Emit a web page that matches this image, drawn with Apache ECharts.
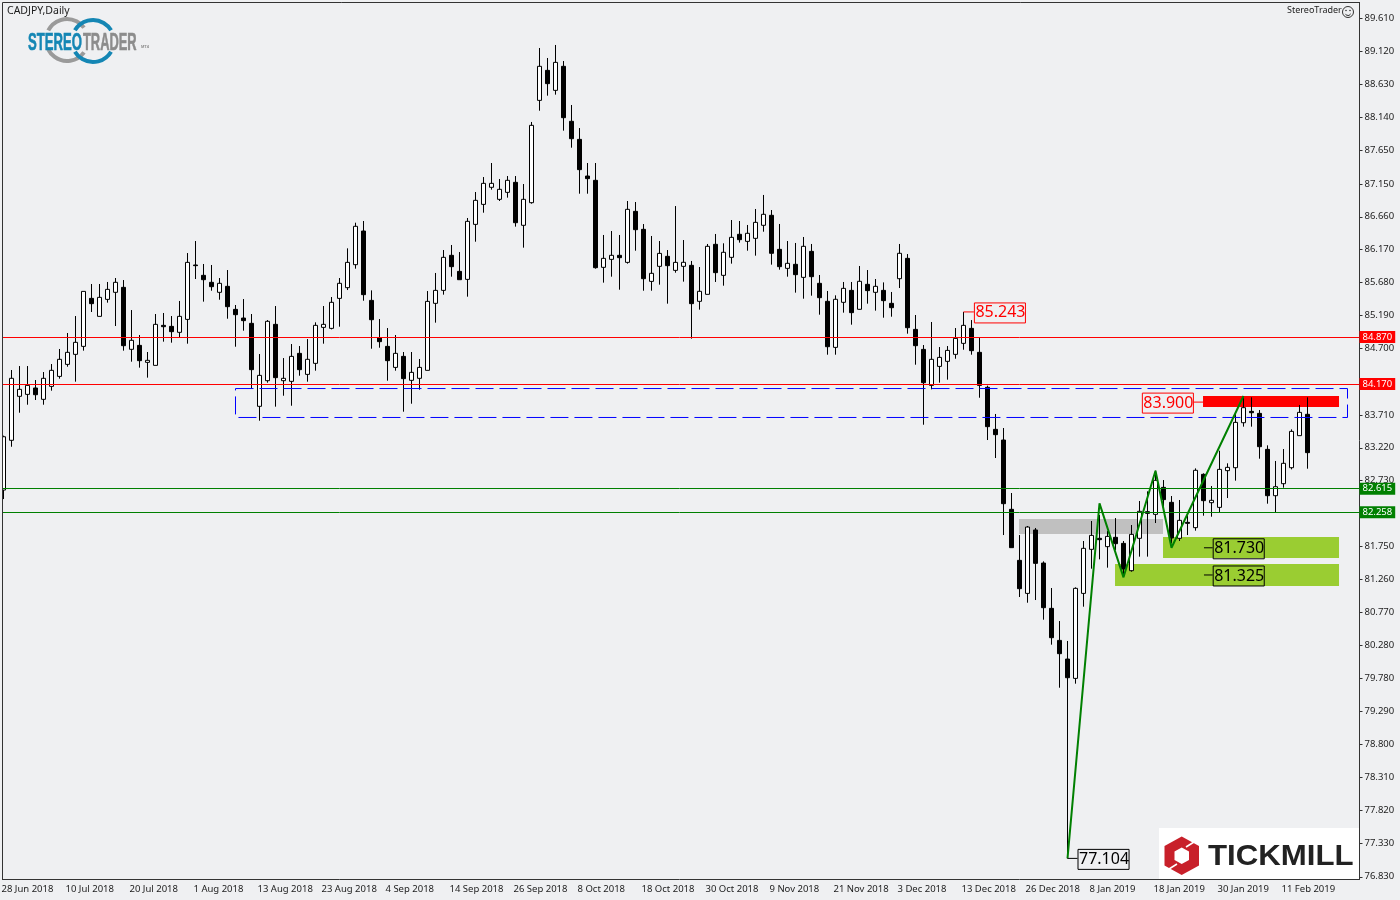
<!DOCTYPE html>
<html>
<head>
<meta charset="utf-8">
<title>CADJPY,Daily</title>
<script src="https://cdn.jsdelivr.net/npm/echarts@6/dist/echarts.min.js"></script>
<style>
  html, body { margin: 0; padding: 0; background: #eff0f2; }
  #chart { width: 1400px; height: 900px; }
</style>
</head>
<body>
<div id="chart"></div>
<script>
// every 8th bar carries a date label
const dateLabels = ['28 Jun 2018', '10 Jul 2018', '20 Jul 2018', '1 Aug 2018', '13 Aug 2018', '23 Aug 2018', '4 Sep 2018',
  '14 Sep 2018', '26 Sep 2018', '8 Oct 2018', '18 Oct 2018', '30 Oct 2018', '9 Nov 2018', '21 Nov 2018', '3 Dec 2018',
  '13 Dec 2018', '26 Dec 2018', '8 Jan 2019', '18 Jan 2019', '30 Jan 2019', '11 Feb 2019']
const priceTicks = [89.61, 89.12, 88.63, 88.14, 87.65, 87.15, 86.66, 86.17, 85.68, 85.19, 84.7, 83.71, 83.22, 82.73,
  81.75, 81.26, 80.77, 80.28, 79.78, 79.29, 78.8, 78.31, 77.82, 77.33, 76.83]

// open, close, low, high
const candles = [
  [82.590, 83.384, 82.456, 83.400], [83.331, 84.254, 83.235, 84.378], [83.986, 84.090, 83.742, 84.437], [84.015, 84.149, 83.861, 84.437],
  [84.110, 84.010, 83.931, 84.229], [83.941, 84.254, 83.861, 84.348], [84.134, 84.373, 84.070, 84.467], [84.283, 84.537, 84.249, 84.691],
  [84.462, 84.641, 84.427, 84.929], [84.611, 84.790, 84.204, 85.182], [84.730, 85.549, 84.666, 85.549], [85.445, 85.366, 85.242, 85.659],
  [85.177, 85.460, 85.177, 85.659], [85.430, 85.579, 85.381, 85.689], [85.535, 85.684, 85.033, 85.748], [85.609, 84.740, 84.666, 85.718],
  [84.686, 84.820, 84.502, 85.271], [84.745, 84.517, 84.413, 84.899], [84.492, 84.522, 84.264, 84.646], [84.447, 85.058, 84.447, 85.212],
  [85.043, 85.023, 84.800, 85.227], [85.028, 84.949, 84.785, 85.182], [84.939, 85.177, 84.869, 85.406], [85.132, 85.981, 84.770, 86.120],
  [85.942, 85.932, 85.733, 86.299], [85.788, 85.723, 85.396, 85.957], [85.684, 85.619, 85.559, 85.942], [85.535, 85.669, 85.425, 85.748],
  [85.624, 85.321, 85.142, 85.867], [85.281, 85.202, 84.725, 85.346], [85.152, 85.113, 84.964, 85.435], [85.073, 84.383, 84.105, 85.212],
  [83.837, 84.298, 83.623, 84.616], [84.219, 85.103, 84.189, 85.122], [85.058, 84.264, 83.832, 85.331], [84.219, 84.254, 83.995, 84.556],
  [84.209, 84.581, 83.846, 84.765], [84.626, 84.383, 84.293, 84.735], [84.313, 84.537, 84.204, 84.839], [84.477, 85.043, 84.368, 85.088],
  [85.013, 85.058, 84.770, 85.331], [84.998, 85.386, 84.983, 85.465], [85.445, 85.669, 85.023, 85.748], [85.604, 85.981, 85.569, 86.190],
  [85.947, 86.518, 85.887, 86.572], [86.448, 85.500, 85.410, 86.597], [85.415, 85.127, 84.695, 85.564], [84.859, 84.800, 84.710, 85.137],
  [84.730, 84.517, 84.219, 85.003], [84.417, 84.626, 84.368, 84.899], [84.581, 84.249, 83.757, 84.646], [84.224, 84.343, 83.876, 84.646],
  [84.254, 84.417, 84.085, 84.542], [84.373, 85.400, 84.373, 85.554], [85.371, 85.564, 85.083, 85.823], [85.564, 86.056, 85.500, 86.165],
  [86.086, 85.917, 85.768, 86.240], [85.847, 85.723, 85.723, 86.135], [85.728, 86.592, 85.470, 86.642], [86.547, 86.905, 86.289, 87.029],
  [86.845, 87.158, 86.721, 87.252], [87.099, 87.158, 87.064, 87.461], [86.920, 87.069, 86.895, 87.223], [87.024, 87.203, 86.945, 87.267],
  [87.173, 86.572, 86.513, 87.267], [86.533, 86.920, 86.200, 87.148], [86.870, 88.022, 86.855, 88.072], [88.394, 88.901, 88.240, 89.174],
  [88.841, 88.643, 88.464, 89.025], [88.543, 88.960, 88.479, 89.219], [88.901, 88.136, 87.943, 88.980], [88.082, 87.823, 87.689, 88.325],
  [87.813, 87.362, 87.004, 87.982], [87.267, 87.228, 87.004, 87.461], [87.203, 85.902, 85.887, 87.461], [85.907, 86.041, 85.679, 86.389],
  [86.026, 86.086, 85.768, 86.448], [86.086, 86.051, 85.574, 86.389], [85.981, 86.771, 85.962, 86.895], [86.741, 86.468, 86.155, 86.880],
  [86.473, 85.738, 85.559, 86.552], [85.698, 85.818, 85.559, 86.374], [85.922, 86.115, 85.649, 86.299], [86.071, 85.932, 85.366, 86.165],
  [85.862, 85.981, 85.827, 86.820], [85.922, 85.982, 85.694, 86.314], [85.937, 85.366, 84.845, 86.002], [85.401, 85.550, 85.277, 85.912],
  [85.505, 86.220, 85.505, 86.255], [86.250, 85.828, 85.689, 86.404], [85.788, 86.131, 85.634, 86.265], [86.056, 86.354, 85.962, 86.612],
  [86.399, 86.319, 86.275, 86.597], [86.294, 86.414, 86.155, 86.538], [86.339, 86.577, 86.081, 86.776], [86.533, 86.697, 86.438, 86.985],
  [86.682, 86.116, 85.947, 86.761], [86.175, 85.917, 85.872, 86.553], [85.892, 85.967, 85.768, 86.299], [85.952, 85.798, 85.530, 86.270],
  [85.758, 86.220, 85.440, 86.359], [86.145, 85.768, 85.485, 86.255], [85.669, 85.455, 85.202, 85.793], [85.401, 84.725, 84.606, 85.555],
  [84.715, 85.431, 84.606, 85.490], [85.386, 85.594, 85.232, 85.689], [85.564, 85.232, 85.053, 85.689], [85.282, 85.699, 85.277, 85.927],
  [85.654, 85.560, 85.366, 85.867], [85.535, 85.624, 85.262, 85.733], [85.564, 85.411, 85.157, 85.683], [85.371, 85.306, 85.172, 85.540],
  [85.738, 86.116, 85.599, 86.255], [86.041, 85.008, 84.919, 86.105], [84.983, 84.740, 84.457, 85.197], [84.685, 84.189, 83.563, 84.750],
  [84.149, 84.537, 84.090, 85.093], [84.432, 84.566, 84.189, 84.720], [84.507, 84.670, 84.234, 84.735], [84.611, 84.849, 84.546, 85.003],
  [84.775, 85.043, 84.680, 85.243], [84.998, 84.666, 84.606, 85.122], [84.641, 84.149, 83.965, 84.859], [84.120, 83.534, 83.335, 84.145],
  [83.494, 83.415, 83.067, 83.723], [83.335, 82.387, 81.920, 83.514], [82.303, 81.732, 81.732, 82.546], [81.543, 81.121, 80.997, 81.920],
  [81.051, 82.039, 80.912, 82.054], [81.995, 81.498, 80.952, 82.025], [81.503, 80.838, 80.659, 81.528], [80.828, 80.391, 80.287, 81.131],
  [80.351, 80.153, 79.646, 80.639], [80.073, 79.795, 77.104, 80.342], [79.785, 81.126, 79.706, 81.141], [81.051, 81.722, 80.853, 81.831],
  [81.707, 81.915, 81.419, 82.129], [81.871, 81.851, 81.558, 82.218], [81.747, 81.900, 81.434, 81.980], [81.886, 81.791, 81.697, 82.173],
  [81.796, 81.414, 81.324, 81.831], [81.389, 81.930, 81.374, 82.069], [81.871, 82.273, 81.598, 82.427], [82.268, 82.243, 81.598, 82.571],
  [82.228, 82.735, 82.099, 82.879], [82.630, 82.447, 82.268, 82.739], [82.407, 81.876, 81.796, 82.501], [81.871, 82.139, 81.831, 82.442],
  [82.109, 82.094, 81.920, 82.213], [82.030, 82.884, 81.985, 82.913], [82.824, 82.432, 82.208, 82.839], [82.402, 82.437, 82.193, 82.650],
  [82.332, 82.898, 82.263, 83.176], [82.879, 82.928, 82.471, 82.988], [82.923, 83.598, 82.730, 83.732], [83.593, 83.817, 83.534, 83.991],
  [83.762, 83.742, 83.534, 83.971], [83.732, 83.236, 83.057, 83.782], [83.196, 82.506, 82.387, 83.256], [82.506, 82.640, 82.263, 83.023],
  [82.685, 82.988, 82.625, 83.201], [82.923, 83.464, 82.898, 83.494], [83.400, 83.747, 83.400, 83.857], [83.718, 83.147, 82.908, 83.971]
]

// horizontal levels with their price tags on the axis
const levelValues = [84.87, 84.17, 82.615, 82.258]
const levelColors = ['#ff0000', '#ff0000', '#008000', '#008000']

// zigzag: bar index, price
const zigzagBars = [133, 137, 140, 144, 146, 155]
const zigzagPrices = [77.104, 82.392, 81.29, 82.878, 81.73, 83.99]

// dashed box: bar index, price
const boxBars = [29, 168, 168, 29, 29]
const boxPrices = [84.102, 84.102, 83.671, 83.671, 84.102]

// shaded zones: from bar, to bar, upper price, lower price, colour
const zoneFrom = [149.94, 144.94, 138.94, 126.94]
const zoneTo = [166.94, 166.94, 166.94, 144.94]
const zoneTop = [83.991, 81.891, 81.489, 82.159]
const zoneBottom = [83.827, 81.578, 81.161, 81.935]
const zoneColors = ['#ff0000', '#9acd32', '#9acd32', '#c0c0c0']

// price tags with a short leader: value, box side bar, leader end bar, side, colour
const tagValues = [85.243, 83.9, 81.73, 81.325, 77.104]
const tagBoxBars = [121.3, 148.8, 151.15, 151.15, 134.25]
const tagLeaderBars = [120, 149.94, 150.06, 150.06, 133]
const tagSides = ['right', 'left', 'right', 'right', 'right']
const tagColors = ['#ff0000', '#ff0000', '#000000', '#000000', '#000000']

const BAR_SLOTS = 170
const categories = []
for (let i = 0; i < BAR_SLOTS; i++) categories.push(i % 8 === 0 && dateLabels[i / 8] ? dateLabels[i / 8] : '')

const uiFont = '"Noto Sans", sans-serif'
const bg = '#eff0f2'
const axisColor = '#333333'
const textColor = '#1c1c1c'

const chart = echarts.init(document.getElementById('chart'), null, { renderer: 'canvas' })

const leaderSeries = tagValues.map((v, i) => ({
  type: 'line',
  xAxisIndex: 1,
  z: 4,
  symbol: 'none',
  silent: true,
  lineStyle: { color: tagColors[i], width: 1 },
  data: [[tagBoxBars[i], v], [tagLeaderBars[i], v]]
}))

const tagSeries = {
  type: 'scatter',
  xAxisIndex: 1,
  z: 4,
  silent: true,
  symbolSize: 1,
  itemStyle: { color: 'transparent', opacity: 1 },
  data: tagValues.map((v, i) => ({
    value: [tagBoxBars[i], v],
    label: {
      show: true,
      position: tagSides[i],
      distance: 0,
      offset: [0, 1],
      formatter: v.toFixed(3),
      fontFamily: uiFont,
      fontSize: 16,
      color: tagColors[i],
      borderColor: tagColors[i],
      borderWidth: 1,
      padding: [4, 0, 0, 1],
      lineHeight: 16
    }
  }))
}

const option = {
  backgroundColor: bg,
  animation: false,
  grid: { left: -0.5, top: 2, width: 1360, height: 877, containLabel: false, outerBoundsMode: 'none' },
  xAxis: [
    {
      type: 'category',
      data: categories,
      boundaryGap: true,
      axisLine: { onZero: false, lineStyle: { color: axisColor, width: 1 } },
      axisTick: {
        alignWithLabel: true,
        length: 3,
        interval: (i) => i % 8 === 0 && categories[i] !== '',
        lineStyle: { color: axisColor }
      },
      axisLabel: {
        interval: (i) => i % 8 === 0 && categories[i] !== '',
        align: 'left',
        margin: 5,
        padding: [0, 0, 0, -2],
        color: textColor,
        fontFamily: uiFont,
        fontSize: 9.5
      },
      splitLine: { show: false }
    },
    // hidden value axis over the same bars, lets the drawn objects sit between bars
    { type: 'value', min: -0.5, max: BAR_SLOTS - 0.5, show: false, position: 'top' }
  ],
  yAxis: {
    type: 'value',
    position: 'right',
    min: 76.797,
    max: 89.859,
    scale: true,
    axisLine: { show: true, onZero: false, lineStyle: { color: axisColor, width: 1 } },
    axisTick: { show: true, length: 3, customValues: priceTicks, lineStyle: { color: axisColor } },
    axisLabel: {
      customValues: priceTicks,
      margin: 5,
      padding: [2, 0, 0, 0],
      color: textColor,
      fontFamily: uiFont,
      fontSize: 9.5,
      formatter: (v) => v.toFixed(3)
    },
    splitLine: { show: false }
  },
  series: [
    {
      type: 'line',
      xAxisIndex: 1,
      data: [],
      silent: true,
      markArea: {
        silent: true,
        z: 1,
        label: { show: false },
        data: zoneFrom.map((from, i) => [
          { xAxis: from, yAxis: zoneTop[i], itemStyle: { color: zoneColors[i], opacity: 1 } },
          { xAxis: zoneTo[i], yAxis: zoneBottom[i] }
        ])
      }
    },
    {
      type: 'candlestick',
      z: 2,
      silent: true,
      barWidth: 5,
      data: candles,
      itemStyle: { color: '#ffffff', color0: '#000000', borderColor: '#000000', borderColor0: '#000000', borderWidth: 1 },
      markLine: {
        silent: true,
        symbol: 'none',
        z: 5,
        data: levelValues.map((v, i) => ({
          yAxis: v,
          lineStyle: { color: levelColors[i], width: 1, type: 'solid' },
          label: {
            show: true,
            position: 'end',
            distance: 0,
            formatter: v.toFixed(3),
            fontFamily: uiFont,
            fontSize: 9.5,
            color: '#ffffff',
            backgroundColor: levelColors[i],
            padding: [1, 3, 0, 3],
            lineHeight: 11
          }
        }))
      }
    },
    {
      type: 'line',
      xAxisIndex: 1,
      z: 3,
      symbol: 'none',
      silent: true,
      lineStyle: { color: '#0000ff', width: 1, type: [18, 6] },
      data: boxBars.map((b, i) => [b, boxPrices[i]])
    },
    {
      type: 'line',
      xAxisIndex: 1,
      z: 3,
      symbol: 'none',
      silent: true,
      lineStyle: { color: '#008000', width: 2 },
      data: zigzagBars.map((b, i) => [b, zigzagPrices[i]])
    },
    ...leaderSeries,
    tagSeries
  ],
  graphic: [
    // frame, the strip hides what falls left of the first bar
    { type: 'rect', z: 100, silent: true, shape: { x: 0, y: 0, width: 2, height: 880 }, style: { fill: bg } },
    { type: 'rect', z: 100, silent: true, shape: { x: 0, y: 0, width: 1360, height: 2 }, style: { fill: bg } },
    { type: 'line', z: 100, silent: true, shape: { x1: 2.5, y1: 2.5, x2: 2.5, y2: 879.5 }, style: { stroke: axisColor, lineWidth: 1 } },
    { type: 'line', z: 100, silent: true, shape: { x1: 2.5, y1: 2.5, x2: 1359.5, y2: 2.5 }, style: { stroke: axisColor, lineWidth: 1 } },

    { type: 'text', z: 100, silent: true, x: 7, y: 6, style: { text: 'CADJPY,Daily', fontFamily: uiFont, fontSize: 10.5, fill: textColor } },
    { type: 'text', z: 100, silent: true, x: 1287, y: 6, style: { text: 'StereoTrader', fontFamily: uiFont, fontSize: 9, fill: textColor } },
    { type: 'circle', z: 100, silent: true, shape: { cx: 1348, cy: 12, r: 5.5 }, style: { fill: 'none', stroke: '#333', lineWidth: 1 } },
    { type: 'circle', z: 100, silent: true, shape: { cx: 1346, cy: 10.5, r: 0.8 }, style: { fill: '#333' } },
    { type: 'circle', z: 100, silent: true, shape: { cx: 1350, cy: 10.5, r: 0.8 }, style: { fill: '#333' } },
    { type: 'arc', z: 100, silent: true, shape: { cx: 1348, cy: 12.5, r: 3, startAngle: 0.15 * Math.PI, endAngle: 0.85 * Math.PI }, style: { fill: 'none', stroke: '#333', lineWidth: 1 } },

    // StereoTrader logo
    { type: 'arc', z: 100, silent: true, shape: { cx: 67, cy: 40, r: 21, startAngle: 1.15 * Math.PI, endAngle: 1.8 * Math.PI }, style: { fill: 'none', stroke: '#9a9a9a', lineWidth: 4 } },
    { type: 'arc', z: 100, silent: true, shape: { cx: 67, cy: 40, r: 21, startAngle: 0.2 * Math.PI, endAngle: 0.85 * Math.PI }, style: { fill: 'none', stroke: '#9a9a9a', lineWidth: 4 } },
    { type: 'arc', z: 101, silent: true, shape: { cx: 93, cy: 41, r: 21, startAngle: 1.17 * Math.PI, endAngle: 1.83 * Math.PI }, style: { fill: 'none', stroke: '#1486b4', lineWidth: 4 } },
    { type: 'arc', z: 101, silent: true, shape: { cx: 93, cy: 41, r: 21, startAngle: 0.17 * Math.PI, endAngle: 0.83 * Math.PI }, style: { fill: 'none', stroke: '#1486b4', lineWidth: 4 } },
    { type: 'rect', z: 101, silent: true, shape: { x: 27, y: 33, width: 112, height: 17 }, style: { fill: bg } },
    { type: 'text', z: 102, silent: true, x: 28, y: 32, scaleX: 0.57, style: { text: 'STEREO', fontFamily: '"Liberation Sans"', fontWeight: 'bold', fontSize: 23, fill: '#1486b4', stroke: '#1486b4', lineWidth: 0.6 } },
    { type: 'text', z: 102, silent: true, x: 83, y: 32, scaleX: 0.56, style: { text: 'TRADER', fontFamily: '"Liberation Sans"', fontWeight: 'bold', fontSize: 23, fill: '#8c8c8c', stroke: '#8c8c8c', lineWidth: 0.6 } },
    { type: 'text', z: 102, silent: true, x: 141, y: 45, style: { text: 'MT4', fontFamily: '"Liberation Sans"', fontWeight: 'bold', fontSize: 4, fill: '#8c8c8c' } },

    // Tickmill logo
    { type: 'rect', z: 100, silent: true, shape: { x: 1159, y: 828, width: 200, height: 51 }, style: { fill: '#ffffff' } },
    { type: 'polygon', z: 101, silent: true, shape: { points: [[1181.7, 836.5], [1199, 846], [1199, 865.5], [1181.7, 875], [1164.5, 865.5], [1164.5, 846]] }, style: { fill: '#c8202a' } },
    { type: 'polygon', z: 102, silent: true, shape: { points: [[1181.7, 847.5], [1189, 851.5], [1189, 860], [1181.7, 864], [1174.5, 860], [1174.5, 851.5]] }, style: { fill: '#ffffff' } },
    { type: 'line', z: 102, silent: true, shape: { x1: 1186, y1: 847, x2: 1194, y2: 842 }, style: { stroke: '#ffffff', lineWidth: 1.5 } },
    { type: 'line', z: 102, silent: true, shape: { x1: 1177, y1: 864, x2: 1169, y2: 869 }, style: { stroke: '#ffffff', lineWidth: 1.5 } },
    { type: 'text', z: 101, silent: true, x: 1208, y: 841.5, scaleX: 1.04, style: { text: 'TICKMILL', fontFamily: '"Liberation Sans"', fontWeight: 'bold', fontSize: 30, fill: '#222222' } }
  ]
}

chart.setOption(option)
</script>
</body>
</html>
